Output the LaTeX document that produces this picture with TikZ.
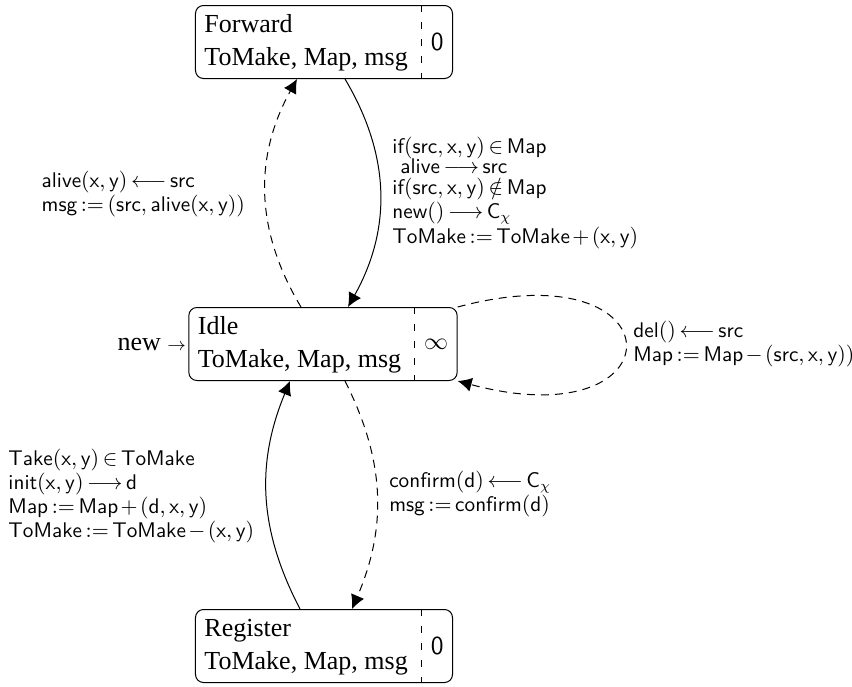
\documentclass[tikz,border=0pt]{standalone}
\usepackage{fontspec}
\setmainfont{Liberation Serif}
\usetikzlibrary{arrows.meta,positioning,shapes.multipart}

\newcommand{\tightmath}{\thickmuskip=3mu\relax\medmuskip=2mu\relax}
\tikzset{
  machine state/.style={rectangle split,rectangle split horizontal,
    rectangle split parts=2,rectangle split draw splits=false,
    draw,line width=0.5pt,rounded corners=4pt,
    inner xsep=4.5pt,inner ysep=1.75pt,
    font=\fontsize{13}{16.5}\selectfont},
  machine split/.style={line width=0.5pt,dash pattern=on 3.5pt off 5pt},
  machine edge/.style={->,>={Latex[length=7pt,width=7pt]},line width=0.5pt},
  machine msg/.style={machine edge,dash pattern=on 4pt off 3pt},
  machine note/.style={align=left,inner sep=2pt,
    font=\fontsize{10.6}{10.4}\selectfont,execute at begin node=\tightmath}
}

\begin{document}
\begin{tikzpicture}[x=0.5pt,y=0.5pt]
  \useasboundingbox (0,0) rectangle (852,-686);

  % states
  \node[machine state] (forward) at (324,-42)
    {\begin{tabular}{@{}l@{\hspace{2pt}}}Forward\\ToMake, Map, msg\end{tabular}
     \nodepart{two}$\mathsf{0}$};
  \node[machine state] (idle) at (323,-344)
    {\begin{tabular}{@{}l@{\hspace{2pt}}}Idle\\ToMake, Map, msg\end{tabular}
     \nodepart{two}$\infty$};
  \node[machine state] (register) at (324,-646)
    {\begin{tabular}{@{}l@{\hspace{2pt}}}Register\\ToMake, Map, msg\end{tabular}
     \nodepart{two}$\mathsf{0}$};
  \foreach \s in {forward,idle,register}
    \draw[machine split] (\s.one split north) -- (\s.one split south);

  \node[left=1pt of idle,inner sep=0pt,font=\fontsize{13}{16.5}\selectfont] (init)
    {new {\fontsize{9}{9}\selectfont$\rightarrow$}};

  % transitions
  \draw[machine edge] ([xshift=10.5pt]forward.south) to[bend left=30]
    node[machine note,right=4pt] (fwdnote)
      {$\mathsf{if(src,x,y)\in Map}$\\
       \hspace{4pt}$\mathsf{alive\longrightarrow src}$\\
       $\mathsf{if(src,x,y)\notin Map}$\\
       $\mathsf{new()\longrightarrow C_{\chi}}$\\
       $\mathsf{ToMake:=ToMake+(x,y)}$}
    ([xshift=12.5pt]idle.north);
  \draw[machine msg] ([xshift=-11pt]idle.north) to[bend left=30]
    node[machine note,left=8pt] (alivenote)
      {$\mathsf{alive(x,y)\longleftarrow src}$\\
       $\mathsf{msg:=(src,alive(x,y))}$}
    ([xshift=-13.5pt]forward.south);
  \draw[machine msg] (idle.north east) to[out=15,in=-15,looseness=8]
    node[machine note,right=2pt] (delnote)
      {$\mathsf{del()\longleftarrow src}$\\
       $\mathsf{Map:=Map-(src,x,y))}$}
    (idle.south east);
  \draw[machine msg] ([xshift=11pt]idle.south) to[bend left=25]
    node[machine note,right=4pt] (confnote)
      {$\mathsf{confirm(d)\longleftarrow C_{\chi}}$\\
       $\mathsf{msg:=confirm(d)}$}
    ([xshift=14pt]register.north);
  \draw[machine edge] ([xshift=-12pt]register.north) to[bend left=25]
    node[machine note,left=4pt] (takenote)
      {$\mathsf{Take(x,y)\in ToMake}$\\
       $\mathsf{init(x,y)\longrightarrow d}$\\
       $\mathsf{Map:=Map+(d,x,y)}$\\
       $\mathsf{ToMake:=ToMake-(x,y)}$}
    ([xshift=-16.5pt]idle.south);
\end{tikzpicture}
\end{document}
